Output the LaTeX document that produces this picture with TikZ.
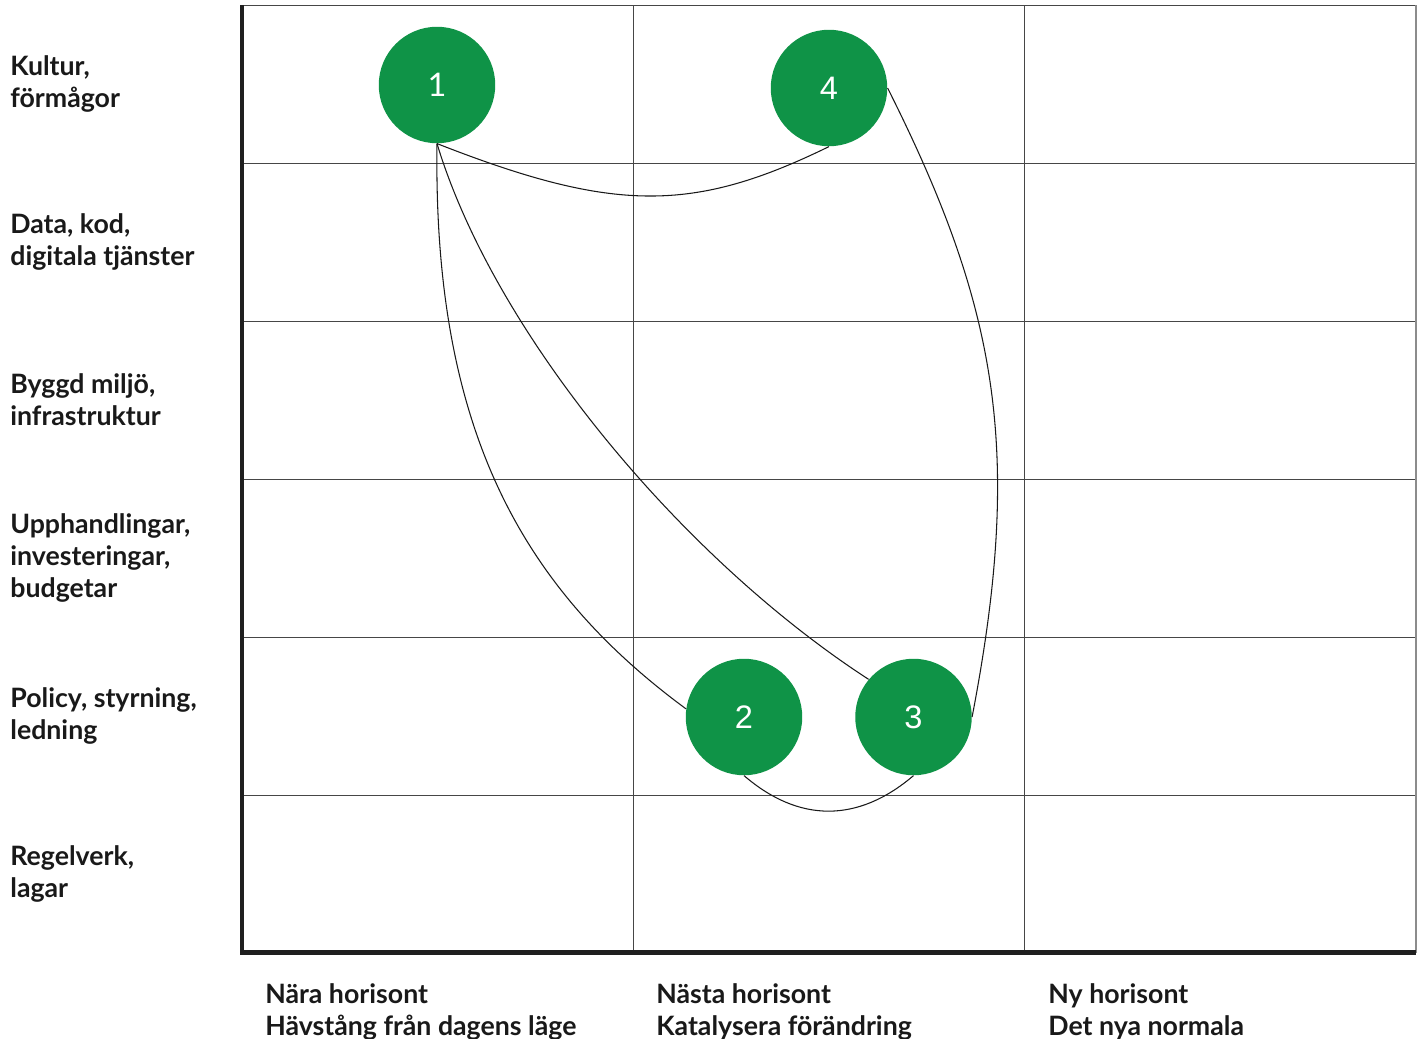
\documentclass[tikz,border=0pt]{standalone}
\usepackage{fontspec}
\setmainfont{Lato}
\newfontfamily\numfont{Liberation Sans}
\usepackage{xcolor}

\definecolor{spotgreen}{RGB}{15,147,71}
\definecolor{gridgray}{RGB}{70,70,70}

\begin{document}
\begin{tikzpicture}[x=0.02cm, y=-0.02cm]
	% Define styles for nodes and lines
	\tikzstyle{spot}=[circle, fill=spotgreen, inner sep=0pt, minimum size=2.33cm, text=white, font=\numfont\fontsize{18.5}{22}\selectfont]
	\tikzstyle{rowlabel}=[anchor=west, align=left, inner sep=0pt, text=black!90, font=\bfseries\fontsize{15.2}{18.2}\selectfont]
	\tikzstyle{collabel}=[anchor=north west, align=left, inner sep=0pt, text=black!90, font=\bfseries\fontsize{15.2}{18.2}\selectfont]
	\tikzstyle{gridline}=[gridgray, line width=0.55pt]
	\tikzstyle{axis}=[black!88, line width=2.8pt, line join=miter]
	\tikzstyle{link}=[black!90, line width=0.6pt]
	
	\useasboundingbox (0,0) rectangle (1420,1038);
	
	% grid
	\draw[gridline] (242,5) -- (1416,5);
	\draw[gridline] (242,163) -- (1416,163);
	\draw[gridline] (242,321) -- (1416,321);
	\draw[gridline] (242,479) -- (1416,479);
	\draw[gridline] (242,637) -- (1416,637);
	\draw[gridline] (242,795) -- (1416,795);
	\draw[gridline] (633,5) -- (633,953);
	\draw[gridline] (1024,5) -- (1024,953);
	\draw[black!45, line width=1pt] (1416,5) -- (1416,953);
	\draw[axis] (242,5) -- (242,952.5) -- (1416,952.5);
	
	% rows
	\node[rowlabel] (kultur) at (10,84) {Kultur,\\förmågor};
	\node[rowlabel] (data) at (10,242) {Data, kod,\\digitala tjänster};
	\node[rowlabel] (byggd) at (10,400) {Byggd miljö,\\infrastruktur};
	\node[rowlabel] (upph) at (10,558) {Upphandlingar,\\investeringar,\\budgetar};
	\node[rowlabel] (policy) at (10,716) {Policy, styrning,\\ledning};
	\node[rowlabel] (regel) at (10,874) {Regelverk,\\lagar};
	
	% columns
	\node[collabel] (nara) at (265,983) {Nära horisont\\Hävstång från dagens läge};
	\node[collabel] (nasta) at (656,983) {Nästa horisont\\Katalysera förändring};
	\node[collabel] (ny) at (1048,983) {Ny horisont\\Det nya normala};
	
	% spots
	\node[spot, font=\fontsize{18.5}{22}\selectfont] (n1) at (437,85) {1};
	\node[spot] (n4) at (829,88) {4};
	\node[spot] (n2) at (744,717) {2};
	\node[spot] (n3) at (913.5,717) {3};
	
	\draw[link] (n1.south) .. controls (614,213) and (693,213) .. (n4.south);
	\draw[link] (n1.south) .. controls (433,430) and (522,588) .. (n2.172);
	\draw[link] (n1.south) .. controls (495,335) and (683,559) .. (n3.140);
	\draw[link] (n4.east) .. controls (999,310) and (1023,452) .. (n3.east);
	\draw[link] (n2.south) .. controls (799,823) and (858,823) .. (n3.south);
\end{tikzpicture}
\end{document}
